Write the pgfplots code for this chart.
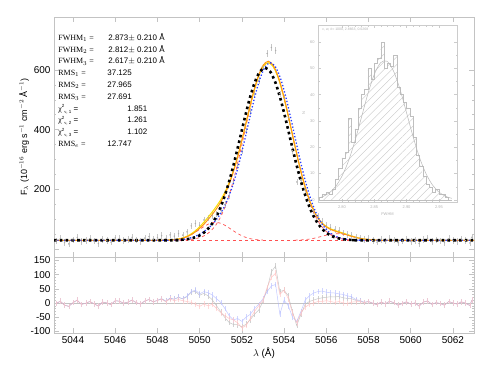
\documentclass[border=0pt]{standalone}
\usepackage{pgfplots}
\pgfplotsset{compat=1.18}
\usepackage{pgfplotstable}
\usepackage{fontspec}
\setmainfont{Liberation Sans}
\newfontfamily\serif{Liberation Serif}
\usetikzlibrary{patterns.meta}

\definecolor{axgray}{RGB}{195,195,195}
\definecolor{fityellow}{RGB}{250,225,0}
\definecolor{fitorange}{RGB}{255,150,20}
\definecolor{fitblue}{RGB}{40,60,255}
\definecolor{fitred}{RGB}{255,80,80}

% observed spectrum
\pgfplotstableread{
x y
5043.2 28
5043.4 36
5043.6 22
5043.8 18
5044.0 31
5044.2 40
5044.4 25
5044.6 29
5044.8 35
5045.0 27
5045.2 19
5045.4 33
5045.6 30
5045.8 24
5046.0 38
5046.2 36
5046.4 29
5046.6 33
5046.8 40
5047.0 31
5047.2 26
5047.4 37
5047.6 42
5047.8 34
5048.0 39
5048.2 45
5048.4 36
5048.6 48
5048.8 44
5049.0 52
5049.2 47
5049.4 58
5049.6 78
5049.8 86
5050.0 80
5050.2 98
5050.4 105
5050.6 112
5050.8 118
5051.0 130
5051.2 150
5051.4 180
5051.6 225
5051.8 280
5052.0 330
5052.2 395
5052.4 460
5052.6 520
5052.8 565
5053.0 610
5053.2 655
5053.4 675
5053.6 665
5053.8 520
5054.0 505
5054.2 440
5054.4 330
5054.6 225
5054.8 230
5055.0 200
5055.2 165
5055.4 128
5055.6 110
5055.8 92
5056.0 80
5056.2 72
5056.4 66
5056.6 62
5056.8 54
5057.0 50
5057.2 47
5057.4 40
5057.6 38
5057.8 32
5058.0 35
5058.2 29
5058.4 24
5058.6 33
5058.8 27
5059.0 36
5059.2 31
5059.4 22
5059.6 28
5059.8 34
5060.0 26
5060.2 30
5060.4 19
5060.6 33
5060.8 37
5061.0 25
5061.2 31
5061.4 28
5061.6 22
5061.8 35
5062.0 30
5062.2 26
5062.4 34
5062.6 29
5062.8 21
5062.9 40
}\obs

% residuals: x, fit 1 (grey), fit 2 (blue), fit 3 (red)
\pgfplotstableread{
x g b r
5043.2 -2 -2 -2
5043.4 6 6 6
5043.6 -8 -8 -8
5043.8 -12 -12 -12
5044.0 1 1 1
5044.2 10 10 10
5044.4 -5 -5 -5
5044.6 -1 -1 -1
5044.8 5 5 5
5045.0 -3 -3 -3
5045.2 -11 -11 -11
5045.4 3 3 3
5045.6 0 0 0
5045.8 -6 -6 -6
5046.0 8 8 8
5046.2 6 6 6
5046.4 -1 -1 -1
5046.6 3 3 3
5046.8 10 10 10
5047.0 1 1 1
5047.2 -4 -4 -4
5047.4 7 7 7
5047.6 12 12 12
5047.8 4 4 4
5048.0 9 9 9
5048.2 15 15 13
5048.4 6 6 4
5048.6 17 17 14
5048.8 13 13 8
5049.0 20 20 12
5049.2 14 15 8
5049.4 22 24 5
5049.6 38 40 2
5049.8 41 45 -5
5050.0 27 32 -12
5050.2 34 40 -4
5050.4 25 36 -10
5050.6 11 28 -5
5050.8 -10 15 -20
5051.0 -31 2 -35
5051.2 -52 -20 -45
5051.4 -69 -45 -55
5051.6 -76 -60 -60
5051.8 -77 -55 -70
5052.0 -84 -65 -88
5052.2 -75 -50 -80
5052.4 -59 -40 -55
5052.6 -40 -20 -30
5052.8 -25 -5 -10
5053.0 5 15 10
5053.2 50 40 55
5053.4 110 60 90
5053.6 130 65 105
5053.8 40 -40 30
5054.0 45 10 45
5054.2 25 -10 15
5054.4 -30 -50 -35
5054.6 -80 -65 -70
5054.8 -40 -30 -35
5055.0 -5 10 -15
5055.2 5 25 -5
5055.4 10 35 0
5055.6 15 40 5
5055.8 18 42 5
5056.0 20 38 8
5056.2 22 36 5
5056.4 21 35 2
5056.6 23 32 5
5056.8 18 30 0
5057.0 16 25 -2
5057.2 15 22 3
5057.4 9 12 4
5057.6 7 9 5
5057.8 2 2 1
5058.0 5 5 5
5058.2 -1 -1 -1
5058.4 -6 -6 -6
5058.6 3 3 3
5058.8 -3 -3 -3
5059.0 6 6 6
5059.2 1 1 1
5059.4 -8 -8 -8
5059.6 -2 -2 -2
5059.8 4 4 4
5060.0 -4 -4 -4
5060.2 0 0 0
5060.4 -11 -11 -11
5060.6 3 3 3
5060.8 7 7 7
5061.0 -5 -5 -5
5061.2 1 1 1
5061.4 -2 -2 -2
5061.6 -8 -8 -8
5061.8 5 5 5
5062.0 0 0 0
5062.2 -4 -4 -4
5062.4 4 4 4
5062.6 -1 -1 -1
5062.8 -9 -9 -9
5062.9 10 10 10
}\res

% FWHM histogram (bin left edges)
\pgfplotstableread{
w n
2.765 1
2.770 2
2.775 3
2.780 2
2.785 4
2.790 8
2.795 12
2.800 16
2.805 18
2.810 31
2.815 22
2.820 27
2.825 35
2.830 40
2.835 42
2.840 50
2.845 46
2.850 52
2.855 54
2.860 60
2.865 50
2.870 52
2.875 51
2.880 55
2.885 43
2.890 40
2.895 37
2.900 35
2.905 32
2.910 24
2.915 17
2.920 13
2.925 9
2.930 6
2.935 5
2.940 3
2.945 4
2.950 2
2.955 2
2.960 1
2.965 0
2.970 0
}\hist

\pgfplotsset{
  idl/.style={
    scale only axis,
    axis line style={axgray, line width=0.5pt},
    tick style={axgray, line width=0.5pt},
    tick align=inside,
    major tick length=5bp, minor tick length=2.5bp,
    tick label style={font=\fontsize{10}{12}\selectfont},
    /pgf/number format/assume math mode=true,
    /pgf/number format/1000 sep={},
  },
}
% chi^2_{nu,i}: superscript then subscript, side by side
\newcommand{\chisq}[1]{{\serif χ}\raisebox{3.2bp}{\fontsize{4.5}{5}\selectfont 2}%
  \raisebox{-2bp}{\fontsize{4.5}{5}\selectfont{\serif ν}, #1}}

\begin{document}
\begin{tikzpicture}
\useasboundingbox (0,0) rectangle (490bp,-368bp);

% ---------------- upper panel ----------------
\begin{axis}[idl,
  at={(54bp,-17bp)}, anchor=north west,
  width=420bp, height=240bp,
  xmin=5043.1, xmax=5063, ymin=-26, ymax=777,
  xtick={5044,5046,...,5062}, xticklabels={}, minor x tick num=3,
  ytick={0,200,400,600}, yticklabels={,200,400,600}, minor y tick num=3,
  ylabel={F$_\lambda$ (10$^{-16}$ erg s$^{-1}$ cm$^{-2}$ Å$^{-1}$)},
  ylabel style={font=\fontsize{9}{10}\selectfont, yshift=-2bp},
]
\addplot[only marks, mark=*, mark size=0.45pt, color=gray!65,
  error bars/.cd, y dir=both, y fixed=11, error mark=none,
  error bar style={gray!45, line width=0.3pt}] table {\obs};

% red dashed components
\addplot[fitred, dashed, line width=0.7pt] coordinates {(5043.1,30)(5063,30)};
\addplot[fitred, dashed, line width=0.7pt, smooth] coordinates {
(5048.5,30.7)(5048.75,31.7)(5049,33.9)(5049.25,38.1)(5049.5,45.0)(5049.75,54.7)
(5050,66.4)(5050.25,78.0)(5050.5,86.8)(5050.75,90.0)(5051,86.8)(5051.25,78.0)
(5051.5,66.4)(5051.75,54.7)(5052,45.0)(5052.25,38.1)(5052.5,33.9)(5052.75,31.7)(5053,30.7)};
\addplot[fitred, dashed, line width=0.7pt, smooth] coordinates {
(5054.5,30.4)(5054.75,31.0)(5055,32.2)(5055.25,34.5)(5055.5,37.9)(5055.75,42.4)
(5056,47.0)(5056.25,50.6)(5056.5,52.0)(5056.75,50.6)(5057,47.0)(5057.25,42.4)
(5057.5,37.9)(5057.75,34.5)(5058,32.2)(5058.25,31.0)(5058.5,30.4)};
\addplot[fitred, dashed, line width=0.7pt, smooth] coordinates {
(5049,30.4)(5049.25,31.1)(5049.5,32.2)(5049.75,34.5)(5050,38.8)(5050.25,46.4)
(5050.5,59.2)(5050.75,79.2)(5051,108.9)(5051.25,150.6)(5051.5,205.2)(5051.75,272.3)
(5052,348.6)(5052.25,428.7)(5052.5,504.8)(5052.75,567.7)(5053,609.4)(5053.25,624.0)
(5053.5,609.4)(5053.75,567.7)(5054,504.8)(5054.25,428.7)(5054.5,348.6)(5054.75,272.3)
(5055,205.2)(5055.25,150.6)(5055.5,108.9)(5055.75,79.2)(5056,59.2)(5056.25,46.4)
(5056.5,38.8)(5056.75,34.5)(5057,32.2)(5057.25,31.1)(5057.5,30.4)};

% fit 3 (yellow)
\addplot[fityellow, line width=1pt, smooth] coordinates {
(5043.1,30)(5048,30)(5048.25,30.2)(5048.5,30.7)(5048.75,31.8)(5049,34.3)(5049.25,39.2)
(5049.5,47.2)(5049.75,59.2)(5050,75.2)(5050.25,94.4)(5050.5,116.0)(5050.75,139.2)
(5051,165.7)(5051.25,198.6)(5051.5,241.6)(5051.75,297.0)(5052,363.6)(5052.25,436.8)
(5052.5,508.7)(5052.75,569.4)(5053,610.1)(5053.25,624.2)(5053.5,609.4)(5053.75,567.7)
(5054,504.8)(5054.25,428.8)(5054.5,349.0)(5054.75,273.3)(5055,207.4)(5055.25,155.1)
(5055.5,116.8)(5055.75,91.6)(5056,76.2)(5056.25,67.0)(5056.5,60.8)(5056.75,55.1)
(5057,49.2)(5057.25,43.5)(5057.5,38.3)(5057.75,34.6)(5058,32.2)(5058.25,31.0)
(5058.5,30.4)(5058.75,30)(5063,30)};
% fit (orange)
\addplot[fitorange, line width=1pt, smooth] coordinates {
(5043.1,30)(5048,30)(5048.25,30.2)(5048.5,30.6)(5048.75,31.5)(5049,33.7)(5049.25,38.0)
(5049.5,45.0)(5049.75,55.6)(5050,69.8)(5050.25,87.3)(5050.5,107.8)(5050.75,130.6)
(5051,157.8)(5051.25,192.4)(5051.5,237.5)(5051.75,295.2)(5052,364.0)(5052.25,439.2)
(5052.5,512.2)(5052.75,573.8)(5053,614.7)(5053.25,629.0)(5053.5,614.0)(5053.75,572.0)
(5054,508.6)(5054.25,432.0)(5054.5,351.4)(5054.75,275.1)(5055,208.5)(5055.25,155.6)
(5055.5,116.4)(5055.75,90.4)(5056,74.4)(5056.25,65.0)(5056.5,58.6)(5056.75,53.0)
(5057,47.5)(5057.25,42.2)(5057.5,37.5)(5057.75,34.1)(5058,32.0)(5058.25,30.9)
(5058.5,30.4)(5058.75,30)(5063,30)};
% fit 2 (blue dotted)
\addplot[fitblue, line width=1.3pt, dotted, smooth] coordinates {
(5043.1,30)(5048.1,30)(5048.35,30.1)(5048.6,30.3)(5048.85,30.8)(5049.1,32.0)(5049.35,34.5)
(5049.6,38.5)(5049.85,44.9)(5050.1,54.1)(5050.35,66.6)(5050.6,83.1)(5050.85,104.4)
(5051.1,132.8)(5051.35,170.8)(5051.6,220.5)(5051.85,282.7)(5052.1,354.9)(5052.35,432.1)
(5052.6,506.4)(5052.85,568.4)(5053.1,609.7)(5053.35,624.0)(5053.6,609.4)(5053.85,567.7)
(5054.1,504.8)(5054.35,428.7)(5054.6,348.6)(5054.85,272.3)(5055.1,205.2)(5055.35,150.6)
(5055.6,108.9)(5055.85,79.2)(5056.1,59.2)(5056.35,46.4)(5056.6,38.8)(5056.85,34.5)
(5057.1,32.2)(5057.35,31.1)(5057.6,30.4)(5057.85,30.1)(5063,30)};
% fit 1 (black squares)
\addplot[black, line width=2.6bp, dash pattern=on 2.6bp off 3.2bp, smooth] coordinates {
(5043.1,30)(5048.6,30)(5048.85,30.7)(5049.1,31.5)(5049.35,33.1)(5049.6,36.1)
(5049.85,41.4)(5050.1,50.4)(5050.35,64.7)(5050.6,86.5)(5050.85,117.9)(5051.1,160.5)
(5051.35,214.9)(5051.6,280.1)(5051.85,352.9)(5052.1,427.9)(5052.35,498.2)(5052.6,555.8)
(5052.85,593.7)(5053.1,607.0)(5053.35,593.7)(5053.6,555.8)(5053.85,498.2)(5054.1,427.9)
(5054.35,352.9)(5054.6,280.1)(5054.85,214.9)(5055.1,160.5)(5055.35,117.9)(5055.6,86.5)
(5055.85,64.7)(5056.1,50.4)(5056.35,41.4)(5056.6,36.1)(5056.85,33.1)(5057.1,31.5)
(5057.35,30.7)(5057.6,30)(5063,30)};

\node[anchor=north west, align=left, inner sep=0pt,
  font=\fontsize{8}{11.8}\selectfont] at (rel axis cs:0.01,0.932) {%
\makebox[50bp][l]{\serif FWHM$_1$ =}2.873$\pm$ 0.210 Å\\
\makebox[50bp][l]{\serif FWHM$_2$ =}2.812$\pm$ 0.210 Å\\
\makebox[50bp][l]{\serif FWHM$_3$ =}2.617$\pm$ 0.210 Å\\
\makebox[49bp][l]{\serif RMS$_1$ =}37.125\\
\makebox[49bp][l]{\serif RMS$_2$ =}27.965\\
\makebox[49bp][l]{\serif RMS$_3$ =}27.691\\
\makebox[69bp][l]{\chisq{1} =}1.851\\
\makebox[69bp][l]{\chisq{2} =}1.261\\
\makebox[69bp][l]{\chisq{3} =}1.102\\
\makebox[49bp][l]{\serif RMS$_e$ =}12.747};
\end{axis}

% ---------------- inset histogram ----------------
\begin{axis}[idl,
  at={(318bp,-25bp)}, anchor=north west,
  width=139bp, height=177bp,
  xmin=2.763, xmax=2.978, ymin=-0.8, ymax=66.5,
  axis background/.style={fill=white},
  axis line style={gray!40, line width=0.4pt},
  tick style={gray!40, line width=0.4pt},
  major tick length=3bp, minor tick length=1.5bp,
  xtick={2.80,2.85,2.90,2.95}, minor x tick num=4,
  ytick={0,10,...,60}, minor y tick num=1,
  xticklabel style={/pgf/number format/.cd, fixed, fixed zerofill, precision=2},
  tick label style={font=\fontsize{4}{5}\selectfont, text=gray!60},
  xlabel={FWHM}, ylabel={N},
  label style={font=\fontsize{4}{5}\selectfont, text=gray!60},
  xlabel style={yshift=2bp}, ylabel style={yshift=-2bp},
]
\addplot[const plot, draw=gray!50, line width=0.4pt,
  pattern={Lines[angle=45, distance=5.5bp, line width=0.35pt]},
  pattern color=gray!45] table {\hist} \closedcycle;
\addplot[gray!55, line width=0.5pt, smooth] coordinates {
(2.76,0.5)(2.77,1.2)(2.78,2.6)(2.79,5.0)(2.80,9.0)(2.81,14.7)(2.82,22.3)(2.83,31.2)
(2.84,40.2)(2.85,47.7)(2.86,52.2)(2.87,52.7)(2.88,48.9)(2.89,41.9)(2.90,33.1)
(2.91,24.1)(2.92,16.1)(2.93,10.0)(2.94,5.7)(2.95,3.0)(2.96,1.4)(2.97,0.6)};
\node[anchor=north west, inner sep=0pt, font=\fontsize{3.5}{4}\selectfont, text=gray!60]
  at (rel axis cs:0.03,0.985) {c, w, \#= 1000, 2.8663, 0.0268};
\end{axis}

% ---------------- residual panel ----------------
\begin{axis}[idl,
  at={(54bp,-257bp)}, anchor=north west,
  width=420bp, height=76bp,
  xmin=5043.1, xmax=5063, ymin=-106, ymax=162,
  xtick={5044,5046,...,5062}, minor x tick num=3,
  ytick={-100,-50,...,150}, minor y tick num=4,
  xlabel={$\lambda$ (Å)},
  xlabel style={font=\fontsize{10}{12}\selectfont, yshift=3bp},
]
\addplot[axgray, line width=0.4pt] coordinates {(5043.1,0)(5063,0)};
\addplot[gray!55, line width=0.5pt, opacity=0.8,
  error bars/.cd, y dir=both, y fixed=10, error mark=none,
  error bar style={gray!45, line width=0.3pt}] table[x=x, y=g] {\res};
\addplot[fitblue!40, line width=0.5pt, opacity=0.7,
  error bars/.cd, y dir=both, y fixed=10, error mark=none,
  error bar style={fitblue!30, line width=0.3pt}] table[x=x, y=b] {\res};
\addplot[fitred!45, line width=0.5pt, opacity=0.7,
  error bars/.cd, y dir=both, y fixed=10, error mark=none,
  error bar style={fitred!30, line width=0.3pt}] table[x=x, y=r] {\res};
\end{axis}
\end{tikzpicture}
\end{document}
